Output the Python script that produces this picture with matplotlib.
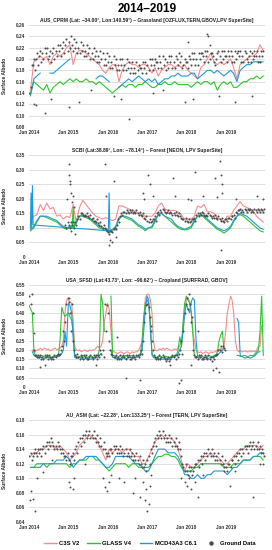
import numpy as np
import matplotlib
matplotlib.use("Agg")
import matplotlib.pyplot as plt
from matplotlib.lines import Line2D
from matplotlib.transforms import ScaledTranslation

plt.rcParams["font.family"] = ["Liberation Sans", "DejaVu Sans"]
PINK = "#F58C8C"; GREEN = "#2DC52D"; BLUE = "#1F9AD6"; GND = "#4D4D4D"
nan = np.nan

# ---------- AUS_CPRM (monthly lines, 3 ground readings per month) ----------
c3s_1 = [.145,.195,.20,.205,.20,.205,.19,.205,.21,.205,.21,.22,
         .225,.19,.21,.215,.215,.21,.205,.20,.195,.19,.18,.175,
         .185,.19,.19,.16,.18,.19,.195,.19,.19,.185,.19,.19,
         .185,.175,.185,.17,.18,.185,.19,.19,.185,.19,.185,.19,
         .18,.175,.17,.165,.185,.19,.20,.21,.195,.19,.195,.19,
         .195,.20,.185,.165,.19,.195,.20,.205,.205,.21,.225,.215]
glass_1 = [.14,.16,.155,.15,.145,.155,.14,.15,.155,.16,.155,.16,
           .165,.16,.165,.16,.16,.165,.16,.16,.155,.16,.155,.15,
           .145,.14,.145,.15,.155,.15,.155,.155,.15,.155,.155,.16,
           .155,.15,.15,.155,.155,.16,.155,.155,.16,.155,.155,.155,
           .155,.15,.155,.16,.155,.16,.16,.155,.16,.145,.155,.16,
           .155,.16,.15,.15,.155,.16,.16,.165,.165,.17,.165,.17]
mcd_1 = [.135,.165,.17,.175,nan,nan,.175,.175,.18,.185,.19,.195,
         .20,nan,nan,nan,nan,nan,nan,nan,.165,.17,.17,.165,
         .16,nan,nan,.15,.155,.16,.165,.16,.165,.17,.165,.16,
         .165,.16,.165,.155,.16,.165,.165,.17,.17,.175,.17,.17,
         .17,.175,.175,.165,.17,.175,.18,.18,.175,.18,.175,.17,
         .175,.18,.175,.16,.18,.185,.19,.19,.195,.195,.195,.195]
gnd_1 = [[.14,.15,.19],[.19,.20,.18],[.20,.21,.19],[.205,.215,.195],[.21,.20,.22],[.21,.22,.20],
         [.205,.215,.195],[.21,.22,.20],[.215,.205,.225],[.215,.225,.205],[.22,.23,.21],[.225,.235,.215],
         [.23,.22,.24],[.225,.215,.235],[.22,.23,.21],[.22,.21,.23],[.215,.225,.205],[.215,.205,.225],
         [.21,.22,.20],[.21,.20,.22],[.205,.215,.195],[.205,.195,.215],[.20,.21,.19],[.20,.19,.21],
         [.195,.205,.185],[.195,.185,.205],[.19,.20,.18],[.19,.18,.20],[.19,.20,.18],[.19,.18,.20],
         [.185,.195,.175],[.185,.195,.175],[.185,.175,.195],[.18,.19,.185],[.185,.175,.195],[.185,.195,.175],
         [.19,.18,.20],[.19,.20,.18],[.19,.20,.195],[.195,.185,.205],[.195,.185,.205],[.19,.20,.18],
         [.195,.185,.205],[.195,.205,.185],[.195,.185,.205],[.20,.19,.21],[.195,.205,.185],[.19,.20,.195],
         [.195,.185,.205],[.20,.19,.21],[.20,.21,.19],[.20,.19,.21],[.20,.21,.21],[.205,.195,.215],
         [.205,.215,.195],[.20,.21,.21],[.205,.195,.19],[.20,.21,.215],[.205,.195,.215],[.20,.215,.205],
         [.205,.195,.215],[.205,.215,.195],[.205,.195,.215],[.20,.21,.215],[.205,.215,.195],[.205,.195,.215],
         [.21,.20,.195],[.205,.215,.195],[.21,.20,.205],[.205,.215,.195],[.205,.195,.215],[.205,.215,nan]]
out1_d = ["2014-02-15","2014-03-10","2014-06-01","2014-07-20","2015-01-10","2015-04-10","2015-08-01",
          "2016-03-01","2016-05-01","2016-07-15","2017-03-01","2017-06-01","2017-12-20","2018-01-20",
          "2018-03-01","2018-07-10","2018-07-25","2018-08-10","2018-11-01","2019-04-01","2019-09-01","2019-09-20"]
out1_v = [.12,.118,.105,.13,.115,.125,.145,.135,.13,.095,.14,.145,.125,.23,.13,.245,.24,.225,.135,.125,.135,.215]

# ---------- SCBI ----------
c3s_2 = [.13,.14,.145,.18,.16,.185,.165,.17,.14,.145,.13,.14,
         .135,.18,.12,.17,.195,.18,.165,.15,.14,.135,.13,.135,
         .13,.125,.13,.175,.175,.17,.165,.16,.155,.15,.145,.14,
         .14,.14,.15,.175,.185,.165,.16,.16,.16,.155,.145,.13,
         .13,.13,.14,.175,.17,.18,.155,.155,.15,.135,.13,.12,
         .14,.14,.16,.175,.19,.175,.17,.165,.155,.14,.13,.12]
glass_2 = [.09,.10,.12,.14,.14,.135,.13,.125,.12,.11,.10,.095,
           .10,.10,.115,.14,.14,.135,.13,.12,.11,.10,.095,.09,
           .085,.09,.10,.13,.14,.135,.13,.125,.115,.105,.10,.09,
           .10,.10,.12,.145,.15,.14,.13,.12,.11,.10,.095,.093,
           .095,.10,.12,.14,.145,.135,.125,.115,.105,.095,.09,.082,
           .09,.10,.12,.14,.145,.14,.13,.12,.11,.10,.09,.086]
mcd_2 = [.095,.105,.125,.14,.14,.14,.135,.13,.125,.115,.105,.10,
         .105,.105,.12,.14,.145,.14,.135,.125,.115,.105,.10,.095,
         .09,.095,.105,.135,.14,.14,.135,.13,.12,.11,.105,.095,
         .10,.105,.125,.145,.15,.14,.135,.13,.115,.105,.10,.095,
         .10,.105,.125,.14,.145,.14,.13,.12,.11,.10,.095,.09,
         .095,.105,.125,.14,.15,.145,.14,.13,.12,.11,.10,.095]
mcd_2_spk_d = ["2014-01-14","2014-01-20","2014-01-26","2014-02-02","2014-02-08",
               "2016-01-08","2016-01-15","2016-01-22"]
mcd_2_spk_v = [.10,.22,.10,.245,.11, .09,.22,.09]
glass_2_spk_d = ["2015-02-05","2015-02-15","2015-02-25"]
glass_2_spk_v = [.10,.17,.10]
gnd_2 = [[nan]*3]*11 + [[.11,.10,.12],
         [.11,.10,.12],[.11,.12,.10],[.12,.11,.13],[.14,.13,.15],[.15,.145,.14],[.145,.14,.15],
         [.14,.135,.145],[.13,.135,.125],[.125,.12,.13],[.115,.11,.12],[.105,.10,.11],[.10,.095,.09],
         [.085,.08,.09],[.09,.085,.095],[.10,.095,.11],[.13,.12,.14],[.15,.145,.155],[.155,.15,.16],
         [.155,.15,.16],[.155,.16,.15],[.155,.15,.16],[.15,.145,.155],[.145,.14,.15],[.135,.13,.14],
         [.125,.12,.13],[.12,.125,.13],[.13,.14,.125],[.15,.155,.145],[.16,.155,.165],[.16,.155,.15],
         [.155,.16,.15],[.155,.15,.145],[.15,.145,.155],[.145,.14,.15],[.14,.135,.13],[.13,.125,.135],
         [.125,.12,.13],[.12,.125,.13],[.13,.135,.125],[.145,.15,.14],[.15,.145,.155],[.15,.145,.14],
         [.145,.14,.15],[.145,.14,.135],[.14,.135,.145],[.135,.13,.14],[.13,.125,.135],[.125,.12,.13],
         [.13,.125,.135],[.135,.13,.14],[.14,.145,.135],[.155,.15,.16],[.16,.165,.155],[.16,.155,.165],
         [.16,.155,.165],[.16,.165,.155],[.16,.155,.165],[.16,.155,.165],[.16,.155,.165],[.16,.155,.165]]
out2_d = ["2014-12-20","2015-01-05","2015-01-10","2015-01-15","2015-01-20","2015-01-25","2015-02-01",
          "2015-02-10","2015-02-20","2015-01-30","2015-03-01","2015-12-10","2015-12-20","2016-01-10",
          "2016-01-25","2016-02-10","2016-03-01","2016-03-20","2016-11-25","2016-12-05","2017-01-10",
          "2017-01-25","2017-03-01","2017-09-01","2017-09-20","2018-01-20","2018-02-10","2018-03-20",
          "2018-06-01","2018-09-20","2018-10-10","2018-11-10","2018-11-20","2018-11-25","2018-12-01",
          "2018-11-15","2019-04-10","2019-10-15","2019-12-10"]
out2_v = [.20,.32,.28,.26,.25,.22,.19,.21,.17,.09,.08,.32,.21,.04,.06,.05,.26,.07,.22,.20,.28,
          .25,.21,.27,.21,.20,.195,.29,.21,.27,.205,.33,.28,.25,.22,.025,.20,.21,.20]

# ---------- USA_SFSD (lines twice a month: 1st and 16th) ----------
c3s_3 = [nan,nan,.20,.19,.19,.20,.20,.21,.20,.205,.21,.20,.205,.195,.20,.205,.21,.20,.205,.21,.22,.25,.40,.47,
         .47,.46,.45,.35,.22,.20,.195,.20,.19,.195,.20,.195,.19,.20,.195,.20,.20,.21,.22,.21,.22,.25,.35,.40,
         .45,.42,.30,.20,.19,.185,.18,.185,.19,.185,.18,.185,.19,.185,.18,.19,.185,.19,.19,.20,.22,.25,.35,.48,
         .50,.50,.47,.40,.25,.20,.195,.20,.205,.20,.21,.20,.21,.205,.20,.195,.20,.205,.20,.21,.22,.25,.30,.38,
         .47,.48,.46,.40,.30,.25,.20,.19,.185,.19,.18,.185,.19,.185,.18,.19,.185,.19,.19,.20,.20,.21,.20,.22,
         .30,.40,.45,.49,.47,.40,.25,.20,.19,.195,.19,.19,.195,.19,.19,.195,.19,.195,.19,.20,.22,.22,.33,.33]
glass_3 = [.44,.42,.40,.19,.17,.165,.16,.165,.17,.165,.16,.165,.165,.16,.16,.165,.165,.17,.17,.25,.43,.40,.38,.39,
           .40,.38,.36,.30,.17,.165,.16,.165,.16,.17,.165,.16,.16,.165,.165,.16,.16,.165,.17,.20,.50,.45,.30,nan,
           nan,nan,.49,.17,.17,.165,.16,.165,.17,.165,.16,.17,.165,.16,.165,.17,.165,.16,.165,.17,.18,.25,.38,.45,
           .47,.45,.35,.17,.165,.16,.16,.165,.165,.16,.16,.165,.165,.16,.16,.165,.165,.17,.17,.20,.27,.22,.35,.45,
           .49,.47,.45,.40,.30,.17,.165,.16,.165,.17,.165,.16,.16,.165,.17,.165,.165,.17,.17,.19,.25,.28,.30,.20,
           nan,nan,nan,nan,nan,nan,nan,.17,.17,.165,.165,.17,.17,.165,.165,.17,.17,.17,.18,.19,.20,.30,.49,.17]
mcd_3 = [nan,nan,.19,.17,.165,.16,.155,.16,.16,.155,.155,.16,.16,.155,.155,.16,.16,.165,.165,.17,.18,.20,.30,.22,
         .45,.44,.40,.25,.16,.155,.155,.16,.155,.15,.15,.155,.155,.15,.15,.155,.155,.16,.16,.17,.18,nan,nan,nan,
         nan,nan,.20,.16,.16,.155,.155,.15,.155,.16,.155,.15,.155,.16,.16,.155,.155,.16,.16,.165,.17,.20,.30,.42,
         .49,.47,.30,.18,.16,.155,.15,.155,.155,.15,.15,.155,.155,.15,.155,.16,.16,.165,.17,.18,.20,.22,.30,.40,
         .45,.42,.40,.46,.48,.47,.25,.16,.155,.16,.155,.15,.15,.155,.155,.16,.16,.165,.165,.17,.18,.19,.20,nan,
         nan,nan,nan,nan,nan,nan,nan,.37,.35,.17,.165,.16,.155,.16,.16,.155,.16,.165,.17,.18,.19,.19,nan,nan]
gnd_3 = [[.49,.45,.50],[.40,.20,.17],[.17,.16,.17],[.16,.17,.15],[.16,.15,.17],[.16,.17,.15],
         [.17,.16,.15],[.16,.15,.17],[.16,.17,.18],[.17,.18,.20],[.22,.30,.25],[.35,.45,.48],
         [.46,.40,.30],[.45,.25,.20],[.17,.16,.18],[.16,.15,.17],[.16,.15,.17],[.16,.17,.15],
         [.15,.16,.17],[.16,.15,.17],[.16,.17,.15],[.17,.16,.20],[.18,.20,.16],[.45,.30,.44],
         [.40,.25,.20],[.18,.17,.16],[.16,.17,.15],[.16,.15,.17],[.15,.16,.17],[.16,.15,.17],
         [.16,.17,.15],[.15,.16,.17],[.16,.15,.17],[.17,.16,.18],[.20,.18,.25],[.35,.40,.44],
         [.45,.43,.38],[.30,.25,.20],[.17,.16,.15],[.16,.15,.17],[.15,.16,.17],[.16,.15,.14],
         [.15,.16,.14],[.15,.16,.17],[.16,.17,.15],[.17,.16,.18],[.20,.25,.18],[.30,.40,.45],
         [.48,.42,.50],[.45,.35,.38],[.20,.17,.16],[.16,.15,.17],[.16,.17,.15],[.15,.16,.17],
         [.16,.15,.17],[.15,.16,.14],[.16,.15,.17],[.17,.18,.20],[.20,.22,.19],[.22,.21,.20]] + [[nan]*3]*12
out3_d = ["2014-02-20","2014-04-10","2014-06-01","2015-01-05","2015-09-15","2016-04-01","2016-06-20",
          "2016-11-01","2017-02-10","2017-08-01","2017-10-20","2017-11-15","2018-02-15","2018-04-20",
          "2018-09-01","2018-10-01","2018-11-01"]
out3_v = [.29,.11,.12,.48,.12,.27,.05,.04,.33,.12,.02,.04,.12,.30,.09,.10,.08]

# ---------- AU_ASM ----------
c3s_4 = [.13,.135,.135,.14,.14,.145,.145,.145,.14,.145,.14,.135,
         .125,.13,.135,.145,.15,.155,.16,.155,.155,.145,.135,.125,
         .14,.135,.14,.14,.135,.14,.14,.135,.13,.13,.12,.12,
         .13,.14,.15,.155,.16,.155,.155,.155,.15,.14,.125,.11,
         .12,.115,.115,.12,.125,.13,.13,.135,.13,.13,.125,.12,
         .12,.125,.13,.135,.14,.14,.145,.145,.145,.145,.14,.145]
glass_4 = [.115,.115,.12,.12,.12,.115,.12,.12,.12,.12,.12,.12,
           .115,.12,.12,.125,.125,.125,.13,.13,.125,.125,.12,.115,
           .11,.115,.12,.12,.12,.12,.115,.12,.12,.115,.115,.115,
           .115,.12,.125,.13,.13,.133,.133,.13,.13,.125,.115,.11,
           .11,.11,.115,.115,.12,.12,.12,.12,.12,.12,.12,.115,
           .115,.115,.12,.12,.12,.125,.125,.125,.13,.13,.13,.125]
mcd_4 = [.115,.115,.115,.115,.12,.12,.12,.12,.125,.125,.125,.13,
         .125,.115,.12,.125,.125,.13,.13,.13,.13,.125,.12,.115,
         .115,.12,.13,.13,.13,.13,.13,.125,.12,.12,.115,.11,
         .11,.12,.13,.14,.14,.14,.135,.135,.135,.13,.12,.105,
         .105,.10,.10,.105,.10,.10,.105,.105,.11,.11,.11,.11,
         .105,.11,.115,.115,.12,.125,.125,.125,.13,.13,.135,.135]
gnd_4 = [[.13,.135,.125],[.13,.135,.14],[.135,.13,.14],[.135,.14,.13],[.14,.145,.135],[.145,.15,.14],
         [.15,.145,.155],[.15,.145,.14],[.145,.14,.15],[.145,.14,.135],[.14,.135,.13],[.13,.125,.135],
         [.125,.12,.13],[.13,.135,.125],[.14,.145,.135],[.15,.155,.145],[.155,.16,.15],[.16,.165,.155],
         [.16,.165,.155],[.16,.155,.165],[.155,.15,.16],[.15,.145,.155],[.145,.14,.15],[.14,.135,.13],
         [.135,.13,.14],[.14,.135,.145],[.14,.145,.135],[.14,.135,.145],[.135,.14,.13],[.135,.14,.13],
         [.135,.13,.14],[.13,.135,.125],[.13,.125,.135],[.125,.12,.13],[.12,.115,.125],[.115,.12,.11],
         [.125,.13,.12],[.14,.135,.145],[.15,.155,.145],[.16,.155,.165],[.16,.155,.165],[.155,.16,.15],
         [.155,.15,.16],[.15,.155,.145],[.15,.145,.155],[.145,.14,.15],[.14,.13,.12],[.115,.11,.12],
         [.11,.105,.115],[.11,.115,.105],[.11,.115,.12],[.12,.125,.115],[.125,.13,.12],[.13,.135,.125],
         [.135,.13,.14],[.135,.13,.14],[.13,.135,.125],[.13,.125,.135],[.125,.12,.13],[.12,.115,.125],
         [.115,.11,.12],[.12,.115,.125],[.125,.13,.12],[.13,.135,.125],[.135,.14,.13],[.14,.135,.145],
         [.14,.145,.135],[.145,.15,.14],[.145,.15,.14],[.145,.14,.15],[.14,.145,.135],[.14,.135,.13]]
out4_d = ["2014-01-08","2014-01-20","2014-02-10","2014-02-25","2014-03-20","2014-05-10","2014-08-01",
          "2015-01-05","2015-01-20","2015-02-10","2015-02-20","2015-06-01","2015-11-20","2015-12-10",
          "2015-12-25","2016-01-10","2016-02-01","2016-04-15","2016-06-01","2016-08-20","2016-09-15",
          "2016-11-01","2016-11-20","2016-12-10","2016-12-20","2017-01-05","2017-01-15","2017-01-25",
          "2017-02-10","2017-11-10","2017-12-15","2018-01-10","2018-01-25","2018-02-15","2018-03-20",
          "2018-04-20","2018-06-01","2018-12-20","2019-02-10","2019-04-01","2019-09-15","2019-11-20","2019-12-15"]
out4_v = [.07,.082,.072,.055,.10,.108,.125,.095,.088,.085,.10,.12,.10,.088,.082,.095,.105,.10,.095,
          .08,.10,.075,.095,.07,.085,.055,.065,.09,.105,.10,.095,.09,.10,.085,.095,.075,.105,.11,
          .09,.11,.075,.12,.12]

titles = ["AUS_CPRM (Lat: \u221234.00°, Lon:140.59°) \u2013 Grassland [OZFLUX,TERN,GBOV,LPV SuperSite]",
          "SCBI (Lat:38.89°, Lon: \u221278.14°) \u2013 Forest [NEON, LPV SuperSite]",
          "USA_SFSD (Lat:43.73°, Lon: \u221296.62°) \u2013 Cropland [SURFRAD, GBOV]",
          "AU_ASM (Lat: \u221222.28°, Lon:133.25°) \u2013 Forest [TERN, LPV SuperSite]"]
ylims = [(0.08, 0.26, 0.02), (0, 0.35, 0.05), (0, 0.55, 0.05), (0.04, 0.18, 0.02)]
years = [str(y) for y in range(2014, 2020)]

months = np.arange("2014-01", "2020-01", dtype="datetime64[M]").astype("datetime64[D]")
mid = months + 14
half = np.sort(np.concatenate([months, months + 15]))
gdays = (months[:, None] + np.array([4, 14, 24])).ravel()

fig = plt.figure(figsize=(2.72, 5.5), dpi=100)
bottoms = [1 - 127/550, 1 - 257/550, 1 - 387/550, 1 - 522/550]
panels = [(c3s_1, glass_1, mcd_1, gnd_1, out1_d, out1_v, mid),
          (c3s_2, glass_2, mcd_2, gnd_2, out2_d, out2_v, mid),
          (c3s_3, glass_3, mcd_3, gnd_3, out3_d, out3_v, half),
          (c3s_4, glass_4, mcd_4, gnd_4, out4_d, out4_v, mid)]
lw = 0.8
for i, (c3s, gl, mcd, gnd, od, ov, xx) in enumerate(panels):
    ax = fig.add_axes([29/272, bottoms[i], 236/272, 102/550])
    ax.plot(xx, c3s, color=PINK, lw=lw, zorder=2)
    ax.plot(xx, gl, color=GREEN, lw=lw, zorder=3)
    ax.plot(xx, mcd, color=BLUE, lw=lw, zorder=3)
    if i == 1:
        ax.plot(np.array(mcd_2_spk_d, dtype="datetime64[D]"), mcd_2_spk_v, color=BLUE, lw=lw, zorder=3)
        ax.plot(np.array(glass_2_spk_d, dtype="datetime64[D]"), glass_2_spk_v, color=GREEN, lw=lw, zorder=3)
    ax.plot(gdays, np.array(gnd, dtype=float).ravel(), "o", ms=1.5, mew=0, color=GND, zorder=4)
    ax.plot(np.array(od, dtype="datetime64[D]"), ov, "o", ms=1.4, mew=0, color=GND, zorder=4)
    lo, hi, st = ylims[i]
    ax.set_ylim(lo, hi)
    ticks = np.arange(lo, hi + st/2, st)
    ax.set_yticks(ticks)
    ax.set_yticklabels(["0" if abs(t) < 1e-9 else f"{t:.2f}" for t in ticks])
    ax.set_xlim(np.datetime64("2014-01-01"), np.datetime64("2020-01-01"))
    ax.set_xticks(np.array([y + "-01-01" for y in years], dtype="datetime64[D]"))
    ax.set_xticklabels(["Jan " + y for y in years])
    for lab in ax.get_xticklabels():
        lab.set_transform(lab.get_transform() + ScaledTranslation(6/100, 0, fig.dpi_scale_trans))
    ax.tick_params(length=0, labelsize=3.4, pad=2.5)
    for lab in ax.get_xticklabels() + ax.get_yticklabels():
        lab.set_fontweight("bold"); lab.set_color("#333333")
    ax.grid(axis="y", color="#D9D9D9", lw=0.6)
    for s in ax.spines.values():
        s.set_visible(False)
    ax.set_axisbelow(True)
    ax.set_title(titles[i], fontsize=3.6, fontweight="bold", pad=2.5, color="#222222")
    ax.set_ylabel("Surface Albedo", fontsize=3.5, fontweight="bold", color="#222222")
    ax.yaxis.set_label_coords(-0.095, 0.5)

fig.text(0.54, 1 - 9/550, "2014\u20132019", ha="center", va="center", fontsize=8.5, fontweight="bold")
handles = [Line2D([], [], color=PINK, lw=1), Line2D([], [], color=GREEN, lw=1),
           Line2D([], [], color=BLUE, lw=1), Line2D([], [], ls="", marker="o", ms=2.2, color=GND)]
fig.legend(handles, ["C3S V2", "GLASS V4", "MCD43A3 C6.1", "Ground Data"], loc="center",
           bbox_to_anchor=(0.55, 1 - 543/550), ncol=4, frameon=False, handlelength=2.2,
           handletextpad=0.4, columnspacing=1.4, prop={"size": 4.2, "weight": "bold"})
fig.savefig("out.png", dpi=100)
